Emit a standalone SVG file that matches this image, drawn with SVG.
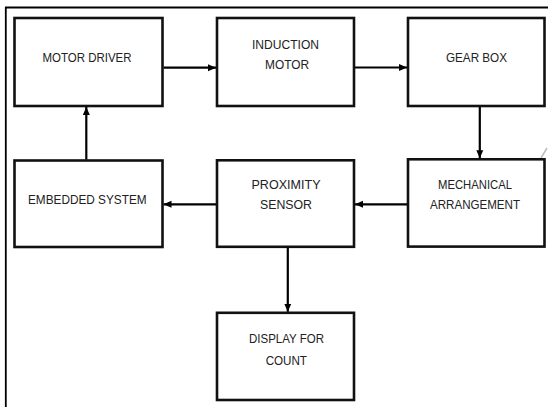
<svg xmlns="http://www.w3.org/2000/svg" width="548" height="407" viewBox="0 0 548 407">
<style>
.box{fill:#fff;stroke:#111;stroke-width:2.6}
.lbl{font-family:"Liberation Sans",Arial,sans-serif;font-size:13px;fill:#222;text-anchor:middle}
.con{stroke:#000;stroke-width:2.2;fill:none}
</style>
<defs>
<marker id="ah" viewBox="0 0 8 8" refX="8" refY="4" markerWidth="8" markerHeight="8" markerUnits="userSpaceOnUse" orient="auto">
<path d="M0,0.5 L8,4 L0,7.5 Z" fill="#000"/>
</marker>
</defs>
<rect x="0" y="0" width="548" height="407" fill="#fff"/>
<g id="frame">
<line x1="5" y1="7.5" x2="548" y2="7.5" stroke="#000" stroke-width="1.8"/>
<line x1="5.8" y1="7" x2="5.8" y2="407" stroke="#000" stroke-width="1.8"/>
<line x1="541" y1="158" x2="547" y2="148" stroke="#bbb" stroke-width="1.5"/>
</g>
<g id="motor-driver">
<rect class="box" x="14.5" y="18" width="148" height="88"/>
<text class="lbl" x="87" y="62" textLength="89" lengthAdjust="spacingAndGlyphs">MOTOR DRIVER</text>
</g>
<g id="induction-motor">
<rect class="box" x="217" y="18" width="137" height="88"/>
<text class="lbl" x="285.5" y="49" textLength="67" lengthAdjust="spacingAndGlyphs">INDUCTION</text>
<text class="lbl" x="287" y="69" textLength="44" lengthAdjust="spacingAndGlyphs">MOTOR</text>
</g>
<g id="gear-box">
<rect class="box" x="408" y="18" width="136.5" height="88"/>
<text class="lbl" x="476.5" y="62" textLength="61" lengthAdjust="spacingAndGlyphs">GEAR BOX</text>
</g>
<g id="embedded-system">
<rect class="box" x="14.5" y="160.5" width="148" height="86.5"/>
<text class="lbl" x="87.3" y="204" textLength="118.7" lengthAdjust="spacingAndGlyphs">EMBEDDED SYSTEM</text>
</g>
<g id="proximity-sensor">
<rect class="box" x="217" y="160.3" width="137" height="86.5"/>
<text class="lbl" x="286" y="189" textLength="69" lengthAdjust="spacingAndGlyphs">PROXIMITY</text>
<text class="lbl" x="286" y="209" textLength="52" lengthAdjust="spacingAndGlyphs">SENSOR</text>
</g>
<g id="mechanical-arrangement">
<rect class="box" x="408" y="159.3" width="136.5" height="87.3"/>
<text class="lbl" x="475" y="189" textLength="74" lengthAdjust="spacingAndGlyphs">MECHANICAL</text>
<text class="lbl" x="475" y="209" textLength="90" lengthAdjust="spacingAndGlyphs">ARRANGEMENT</text>
</g>
<g id="display-for-count">
<rect class="box" x="217" y="312.8" width="137" height="87.2"/>
<text class="lbl" x="286.5" y="343" textLength="75" lengthAdjust="spacingAndGlyphs">DISPLAY FOR</text>
<text class="lbl" x="286.3" y="365" textLength="41.3" lengthAdjust="spacingAndGlyphs">COUNT</text>
</g>
<g id="connectors">
<line class="con" x1="163.5" y1="67.7" x2="216" y2="67.7" marker-end="url(#ah)"/>
<line class="con" x1="355" y1="67.5" x2="407" y2="67.5" marker-end="url(#ah)"/>
<line class="con" x1="479.8" y1="107" x2="479.8" y2="158.2" marker-end="url(#ah)"/>
<line class="con" x1="407" y1="204.3" x2="355" y2="204.3" marker-end="url(#ah)"/>
<line class="con" x1="216" y1="204.3" x2="163.5" y2="204.3" marker-end="url(#ah)"/>
<line class="con" x1="86.3" y1="159.5" x2="86.3" y2="107" marker-end="url(#ah)"/>
<line class="con" x1="287.8" y1="247.5" x2="287.8" y2="311.8" marker-end="url(#ah)"/>
</g>
</svg>
